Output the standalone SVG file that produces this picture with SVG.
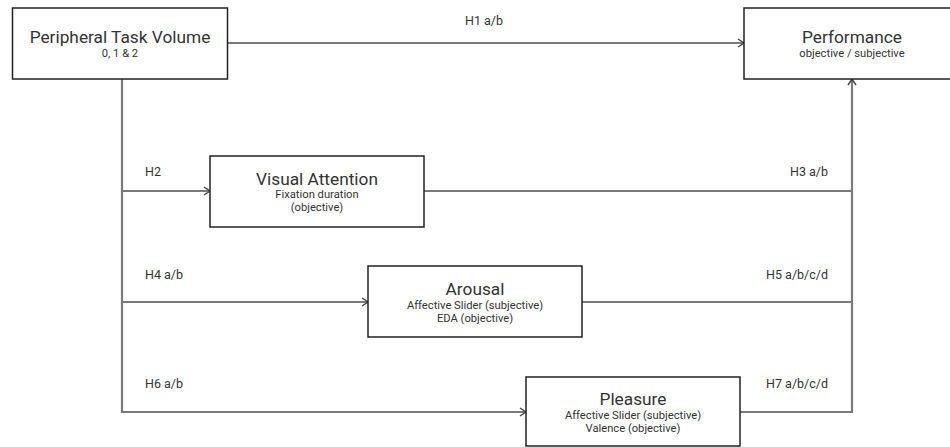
<svg xmlns="http://www.w3.org/2000/svg" width="950" height="447" viewBox="0 0 950 447">
<style>
.box{fill:#fff;stroke:#222;stroke-width:1.5}
.t{font-family:Roboto,"Liberation Sans",sans-serif;fill:#333;text-anchor:middle}
.title{font-size:17.3px}
.sub{font-size:11.2px}
.lbl{font-family:Roboto,"Liberation Sans",sans-serif;fill:#333;font-size:12.5px}
.c{fill:none;stroke:#7a7a7a;stroke-width:2.2}
</style>
<defs>
<marker id="ah" viewBox="0 0 10 10" refX="9" refY="5" markerWidth="10" markerHeight="10" markerUnits="userSpaceOnUse" orient="auto">
<path d="M3,1 L9,5 L3,9" fill="none" stroke="#444" stroke-width="1.4"/>
</marker>
</defs>
<rect width="950" height="447" fill="#fff"/>
<g id="connectors">
<path class="c" d="M227,43 H744" marker-end="url(#ah)"/>
<path class="c" d="M122,79 V412 H526" marker-end="url(#ah)"/>
<path class="c" d="M122,191 H210" marker-end="url(#ah)"/>
<path class="c" d="M122,302 H368" marker-end="url(#ah)"/>
<path class="c" d="M424,191 H852"/>
<path class="c" d="M582,302 H852"/>
<path class="c" d="M740,412 H852 V79" marker-end="url(#ah)"/>
<text class="lbl" x="465" y="25">H1 a/b</text>
<text class="lbl" x="145" y="176">H2</text>
<text class="lbl" x="828" y="176" text-anchor="end">H3 a/b</text>
<text class="lbl" x="145" y="279">H4 a/b</text>
<text class="lbl" x="828" y="279" text-anchor="end">H5 a/b/c/d</text>
<text class="lbl" x="145" y="388">H6 a/b</text>
<text class="lbl" x="828" y="388" text-anchor="end">H7 a/b/c/d</text>
</g>
<g id="peripheral">
<rect class="box" x="12.5" y="8" width="215" height="71"/>
<text class="t title" x="120" y="43">Peripheral Task Volume</text>
<text class="t sub" x="120" y="57">0, 1 &amp; 2</text>
</g>
<g id="performance">
<rect class="box" x="744" y="8" width="216" height="71"/>
<text class="t title" x="852" y="43">Performance</text>
<text class="t sub" x="852" y="57">objective / subjective</text>
</g>
<g id="visual-attention">
<rect class="box" x="210" y="156" width="214" height="71"/>
<text class="t title" x="317" y="185">Visual Attention</text>
<text class="t sub" x="317" y="197.5">Fixation duration</text>
<text class="t sub" x="317" y="210.5">(objective)</text>
</g>
<g id="arousal">
<rect class="box" x="368" y="266" width="214" height="71"/>
<text class="t title" x="475" y="295">Arousal</text>
<text class="t sub" x="475" y="308.5">Affective Slider (subjective)</text>
<text class="t sub" x="475" y="321.5">EDA (objective)</text>
</g>
<g id="pleasure">
<rect class="box" x="526" y="377" width="214" height="69"/>
<text class="t title" x="633" y="405">Pleasure</text>
<text class="t sub" x="633" y="418.5">Affective Slider (subjective)</text>
<text class="t sub" x="633" y="431.5">Valence (objective)</text>
</g>
</svg>
